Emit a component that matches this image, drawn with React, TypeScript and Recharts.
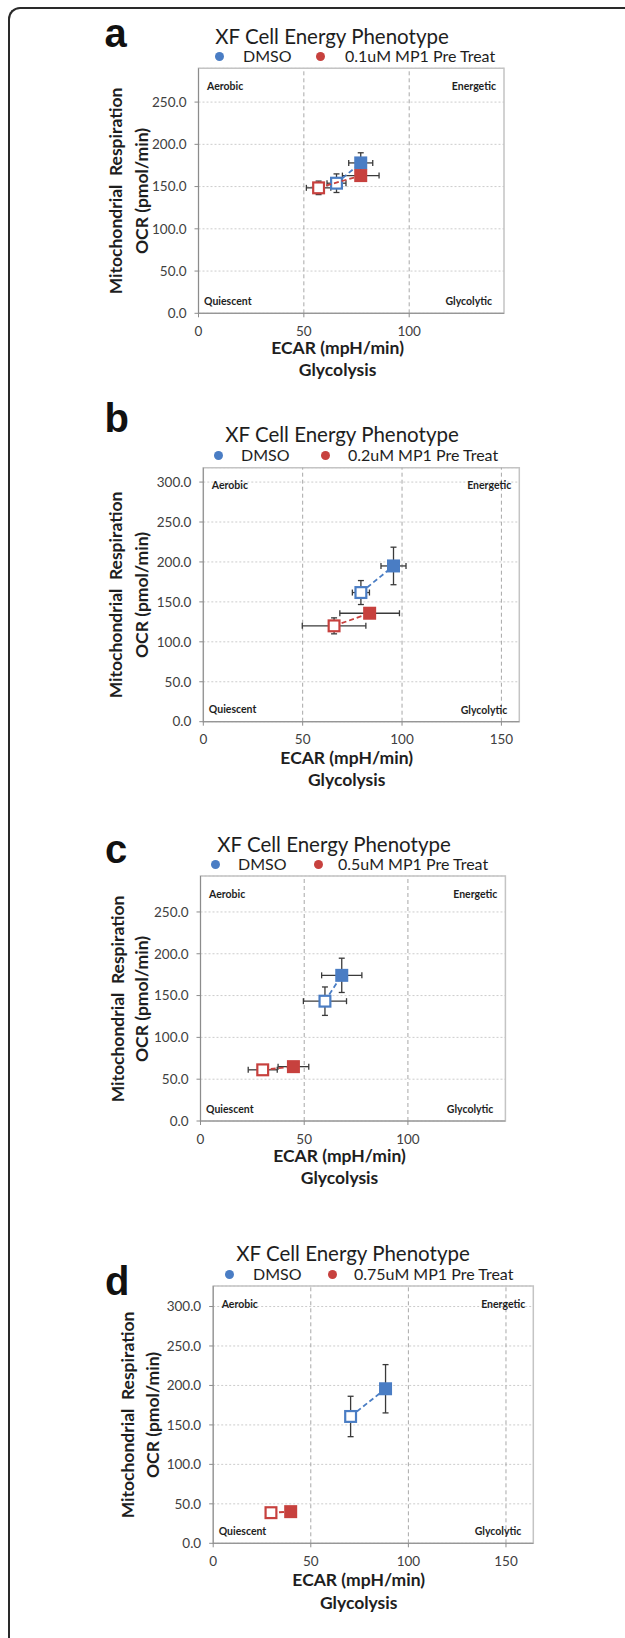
import { ScatterChart, Scatter, XAxis, YAxis, CartesianGrid, ReferenceLine, ReferenceArea, ErrorBar } from 'recharts'

const BLUE = '#4a7dc4'
const RED = '#c7413e'
const FONT = 'Lato, "Open Sans", sans-serif'
const LETTER_FONT = '"Liberation Sans", Arial, sans-serif'

// open square = baseline, filled square = stressed
const dmsoA = [
  { ecar: 65.5, ocr: 154, ecarErr: 4.5, ocrErr: 11, filled: false },
  { ecar: 77, ocr: 178, ecarErr: 5.7, ocrErr: 12, filled: true },
]
const treatA = [
  { ecar: 57, ocr: 148.5, ecarErr: 5.8, ocrErr: 8, filled: false },
  { ecar: 77, ocr: 163, ecarErr: 8.7, ocrErr: 6, filled: true },
]
const dmsoB = [
  { ecar: 79.3, ocr: 161.7, ecarErr: 4.3, ocrErr: 15, filled: false },
  { ecar: 95.7, ocr: 195, ecarErr: 6.3, ocrErr: 23.5, filled: true },
]
const treatB = [
  { ecar: 65.8, ocr: 120, ecarErr: 16, ocrErr: 10, filled: false },
  { ecar: 83.7, ocr: 135.8, ecarErr: 15, ocrErr: 2, filled: true },
]
const dmsoC = [
  { ecar: 60, ocr: 143.3, ecarErr: 10.4, ocrErr: 17, filled: false },
  { ecar: 68.1, ocr: 174.2, ecarErr: 9.7, ocrErr: 20.5, filled: true },
]
const treatC = [
  { ecar: 30, ocr: 61.2, ecarErr: 7, ocrErr: 3, filled: false },
  { ecar: 44.8, ocr: 65, ecarErr: 7.4, ocrErr: 3, filled: true },
]
const dmsoD = [
  { ecar: 70.4, ocr: 160.7, ecarErr: 0, ocrErr: 25.6, filled: false },
  { ecar: 88.3, ocr: 195.8, ecarErr: 0, ocrErr: 30.6, filled: true },
]
const treatD = [
  { ecar: 29.6, ocr: 38.8, ecarErr: 0, ocrErr: 0, filled: false },
  { ecar: 39.7, ocr: 40.1, ecarErr: 0, ocrErr: 0, filled: true },
]

const treatLabels = ['0.1uM MP1 Pre Treat', '0.2uM MP1 Pre Treat', '0.5uM MP1 Pre Treat', '0.75uM MP1 Pre Treat']
const xTicksShort = [0, 50, 100]
const xTicksLong = [0, 50, 100, 150]
const yTicks250 = [0, 50, 100, 150, 200, 250]
const yTicks300 = [0, 50, 100, 150, 200, 250, 300]

const panels = [
  {
    letter: 'a', treatLabel: treatLabels[0], dmso: dmsoA, treat: treatA, xMax: 145, yMax: 290, xTicks: xTicksShort, yTicks: yTicks250,
    top: 0, height: 400, box: { l: 198.5, r: 504, t: 68.3, b: 313.3 },
    letterPos: { x: 104.5, base: 46.7 }, title: { x: 332, y: 35.5 },
    legend: { y: 56, blueDot: 219, dmso: 243, redDot: 320, treat: 345 },
    yTitle: { x1: 115.6, x2: 141.5, y: 191 }, xTitle: { x: 337.6, y1: 348, y2: 370 },
  },
  {
    letter: 'b', treatLabel: treatLabels[1], dmso: dmsoB, treat: treatB, xMax: 159, yMax: 318, xTicks: xTicksLong, yTicks: yTicks300,
    top: 400, height: 415, box: { l: 203.3, r: 519.3, t: 467.7, b: 721.7 },
    letterPos: { x: 104.5, base: 431.7 }, title: { x: 342, y: 434.3 },
    legend: { y: 455, blueDot: 218.4, dmso: 241, redDot: 325.6, treat: 348 },
    yTitle: { x1: 115.6, x2: 141.5, y: 595 }, xTitle: { x: 346.7, y1: 758.3, y2: 780 },
  },
  {
    letter: 'c', treatLabel: treatLabels[2], dmso: dmsoC, treat: treatC, xMax: 147, yMax: 293, xTicks: xTicksShort, yTicks: yTicks250,
    top: 815, height: 400, box: { l: 200.5, r: 505.4, t: 876, b: 1121 },
    letterPos: { x: 105, base: 863 }, title: { x: 334, y: 844 },
    legend: { y: 864, blueDot: 215.2, dmso: 238, redDot: 318.8, treat: 338 },
    yTitle: { x1: 117.6, x2: 141.5, y: 999 }, xTitle: { x: 339.5, y1: 1156, y2: 1178.3 },
  },
  {
    letter: 'd', treatLabel: treatLabels[3], dmso: dmsoD, treat: treatD, xMax: 164, yMax: 326, xTicks: xTicksLong, yTicks: yTicks300,
    top: 1215, height: 423, box: { l: 213.2, r: 533.3, t: 1286, b: 1543.3 },
    letterPos: { x: 105, base: 1295 }, title: { x: 353, y: 1252.7 },
    legend: { y: 1274, blueDot: 229.2, dmso: 253, redDot: 332.8, treat: 354 },
    yTitle: { x1: 127.5, x2: 153.4, y: 1415 }, xTitle: { x: 358.7, y1: 1580, y2: 1603.3 },
  },
]

const square = (color: string) => (props: any) => {
  const { cx, cy, payload } = props
  const s = 13
  if (payload.filled) {
    return <rect x={cx - s / 2} y={cy - s / 2} width={s} height={s} fill={color} />
  }
  return <rect x={cx - s / 2 + 1.1} y={cy - s / 2 + 1.1} width={s - 2.2} height={s - 2.2} fill="#fff" stroke={color} strokeWidth={2.2} />
}

function Txt({ x, y, anchor = 'middle', rotate = false, style = {}, children }: any) {
  const tx = anchor === 'middle' ? '-50%' : anchor === 'end' ? '-100%' : '0'
  return (
    <div
      style={{
        position: 'absolute', left: x, top: y, whiteSpace: 'pre', lineHeight: 1, fontFamily: FONT, color: '#1e1e1e',
        transform: `translate(${tx}, -50%)${rotate ? ' rotate(-90deg)' : ''}`, ...style,
      }}
    >
      {children}
    </div>
  )
}

function Panel({ p }: { p: any }) {
  const { l, r, t, b } = p.box
  const axisTick = { fontSize: 13.5, fill: '#404040', fontFamily: FONT }
  const quad = { fontSize: 10.5, fontWeight: 700 }
  const axisTitle = { fontSize: 17.5, fontWeight: 700 }
  const legendDot = (x: number, color: string) => (
    <div style={{ position: 'absolute', left: x - 4.5, top: p.legend.y - 4.5, width: 9, height: 9, borderRadius: '50%', background: color }} />
  )

  return (
    <>
      <div style={{ position: 'absolute', left: 0, top: p.top }}>
        <ScatterChart
          width={625}
          height={p.height}
          margin={{ top: t - p.top, right: 625 - r, bottom: p.top + p.height - b - 30, left: l - 60 }}
        >
          <CartesianGrid horizontal vertical={false} stroke="#cccccc" strokeDasharray="2 2" />
          <ReferenceArea x1={0} x2={p.xMax} y1={0} y2={p.yMax} fill="none" stroke="#c4c4c4" strokeWidth={1.5} ifOverflow="visible" />
          {p.xTicks.filter((v: number) => v > 0).map((v: number) => (
            <ReferenceLine key={v} x={v} stroke="#a8a8a8" strokeDasharray="4 3" />
          ))}
          <XAxis type="number" dataKey="ecar" domain={[0, p.xMax]} ticks={p.xTicks} allowDataOverflow
            tickSize={4} tickMargin={9} stroke="#8c8c8c" tick={axisTick} />
          <YAxis type="number" dataKey="ocr" domain={[0, p.yMax]} ticks={p.yTicks} allowDataOverflow
            tickSize={4} tickMargin={8} stroke="#8c8c8c" tick={axisTick} tickFormatter={(v: number) => v.toFixed(1)} />
          <Scatter data={p.dmso} shape={square(BLUE)} line={{ stroke: BLUE, strokeWidth: 1.8, strokeDasharray: '5 3' }} isAnimationActive={false}>
            <ErrorBar dataKey="ecarErr" direction="x" width={3} stroke="#3a3a3a" strokeWidth={1.3} />
            <ErrorBar dataKey="ocrErr" direction="y" width={3} stroke="#3a3a3a" strokeWidth={1.3} />
          </Scatter>
          <Scatter data={p.treat} shape={square(RED)} line={{ stroke: RED, strokeWidth: 1.8, strokeDasharray: '5 3' }} isAnimationActive={false}>
            <ErrorBar dataKey="ecarErr" direction="x" width={3} stroke="#3a3a3a" strokeWidth={1.3} />
            <ErrorBar dataKey="ocrErr" direction="y" width={3} stroke="#3a3a3a" strokeWidth={1.3} />
          </Scatter>
        </ScatterChart>
      </div>

      <div style={{ position: 'absolute', left: p.letterPos.x, top: p.letterPos.base - 0.8465 * 40, fontFamily: LETTER_FONT, fontWeight: 700, fontSize: 40, lineHeight: 1, color: '#111' }}>
        {p.letter}
      </div>
      <Txt x={p.title.x} y={p.title.y} style={{ fontSize: 20.5 }}>XF Cell Energy Phenotype</Txt>
      {legendDot(p.legend.blueDot, BLUE)}
      <Txt x={p.legend.dmso} y={p.legend.y} anchor="start" style={{ fontSize: 16 }}>DMSO</Txt>
      {legendDot(p.legend.redDot, RED)}
      <Txt x={p.legend.treat} y={p.legend.y} anchor="start" style={{ fontSize: 16 }}>{p.treatLabel}</Txt>

      <Txt x={l + 8.5} y={t + 17.5} anchor="start" style={quad}>Aerobic</Txt>
      <Txt x={r - 8} y={t + 17.5} anchor="end" style={quad}>Energetic</Txt>
      <Txt x={l + 5.5} y={b - 12.5} anchor="start" style={quad}>Quiescent</Txt>
      <Txt x={r - 12} y={b - 12} anchor="end" style={quad}>Glycolytic</Txt>

      <Txt x={p.yTitle.x1} y={p.yTitle.y} rotate style={axisTitle}>{'Mitochondrial  Respiration'}</Txt>
      <Txt x={p.yTitle.x2} y={p.yTitle.y} rotate style={axisTitle}>OCR (pmol/min)</Txt>
      <Txt x={p.xTitle.x} y={p.xTitle.y1} style={axisTitle}>ECAR (mpH/min)</Txt>
      <Txt x={p.xTitle.x} y={p.xTitle.y2} style={axisTitle}>Glycolysis</Txt>
    </>
  )
}

export default function App() {
  return (
    <div style={{ position: 'absolute', left: 0, top: 0, width: 625, height: 1638, background: '#fff', overflow: 'hidden' }}>
      <div style={{ position: 'absolute', left: 8, top: 7, width: 615, height: 1660, borderTop: '2px solid #2a2a2a', borderLeft: '2px solid #2a2a2a', borderTopLeftRadius: 12 }} />
      {panels.map((p) => (
        <Panel key={p.letter} p={p} />
      ))}
    </div>
  )
}
